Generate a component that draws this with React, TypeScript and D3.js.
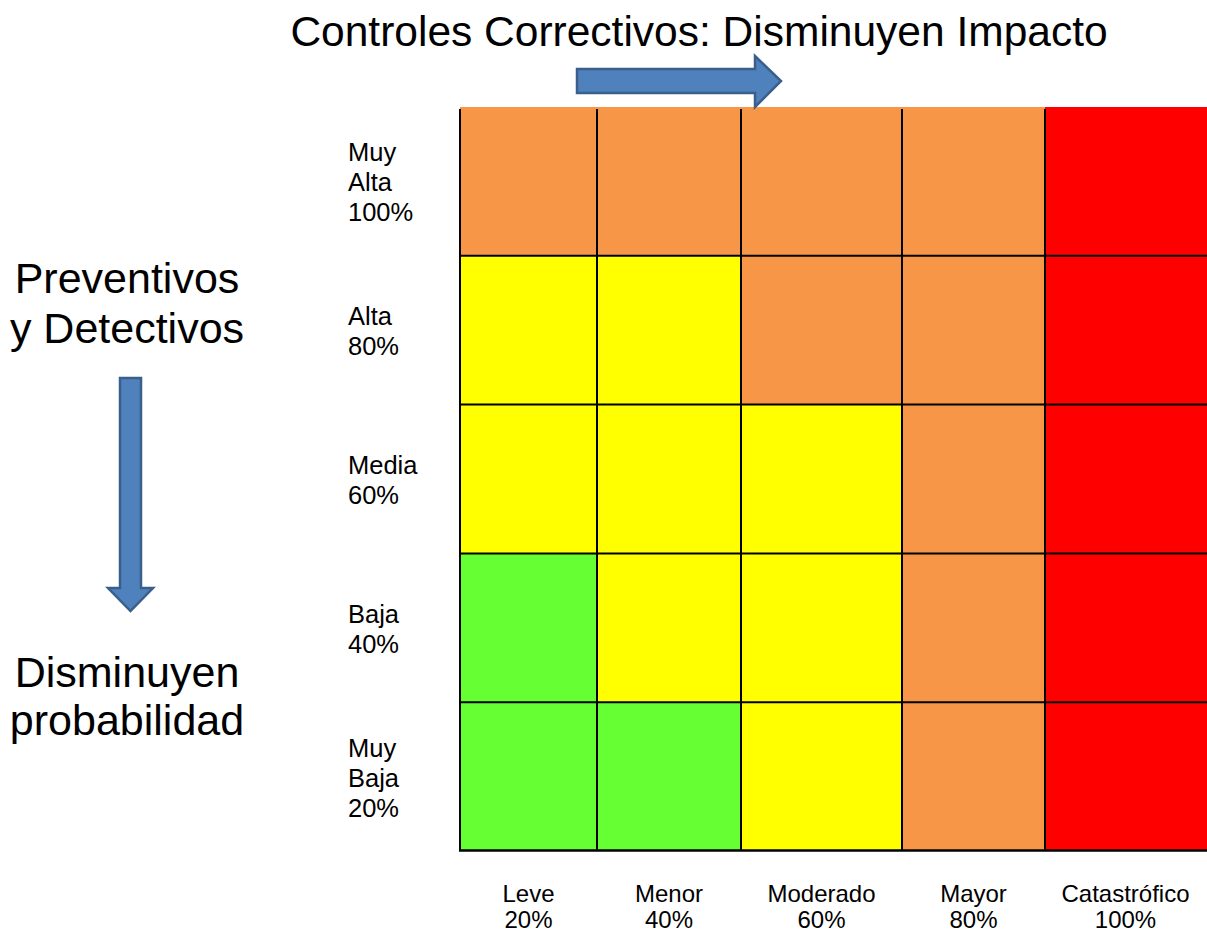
import * as d3 from "d3";
import { useRef, useEffect } from "react";

// impact (columns) and probability (rows, top to bottom)
const impactNames = ["Leve", "Menor", "Moderado", "Mayor", "Catastrófico"];
const impactPct = ["20%", "40%", "60%", "80%", "100%"];
const probLines = [
  ["Muy", "Alta", "100%"],
  ["Alta", "80%"],
  ["Media", "60%"],
  ["Baja", "40%"],
  ["Muy", "Baja", "20%"],
];
// risk level per cell: rows top to bottom, columns left to right
const levels = [
  ["alto", "alto", "alto", "alto", "extremo"],
  ["moderado", "moderado", "alto", "alto", "extremo"],
  ["moderado", "moderado", "moderado", "alto", "extremo"],
  ["bajo", "moderado", "moderado", "alto", "extremo"],
  ["bajo", "bajo", "moderado", "alto", "extremo"],
];

const width = 1207;
const height = 933;
const font = "'Liberation Sans', Arial, sans-serif";
// relative column widths as drawn in the original table
const colWeights = [137, 144, 161, 143, 164];

const levelColor = d3
  .scaleOrdinal<string, string>()
  .domain(["bajo", "moderado", "alto", "extremo"])
  .range(["#66FF33", "#FFFF00", "#F79646", "#FF0000"]);

const App = () => {
  const ref = useRef<SVGSVGElement>(null);

  useEffect(() => {
    document.body.style.margin = "0";
    const svg = d3.select(ref.current);
    svg.selectAll("*").remove();

    const edges = d3.cumsum([0, ...colWeights]);
    const x = d3.scaleLinear().domain([0, edges[edges.length - 1]]).range([460, 1209]);
    const colX = (i: number) => x(edges[i]);
    const colW = (i: number) => x(edges[i + 1]) - x(edges[i]);

    const y = d3
      .scaleBand<number>()
      .domain(d3.range(probLines.length))
      .range([107, 851]);

    // cells
    const cells = levels.flatMap((row, r) => row.map((lv, c) => ({ r, c, lv })));
    svg
      .append("g")
      .selectAll("rect")
      .data(cells)
      .join("rect")
      .attr("x", (d) => colX(d.c))
      .attr("y", (d) => y(d.r)!)
      .attr("width", (d) => colW(d.c))
      .attr("height", y.bandwidth())
      .attr("fill", (d) => levelColor(d.lv));

    // grid lines
    const grid = svg.append("g").attr("stroke", "#000").attr("stroke-width", 2);
    grid
      .selectAll("line.v")
      .data(d3.range(impactNames.length))
      .join("line")
      .attr("x1", (i) => colX(i))
      .attr("x2", (i) => colX(i))
      .attr("y1", 109)
      .attr("y2", 851);
    grid
      .selectAll("line.h")
      .data(d3.range(1, probLines.length))
      .join("line")
      .attr("x1", 459)
      .attr("x2", 1209)
      .attr("y1", (i) => y(i)!)
      .attr("y2", (i) => y(i)!);
    grid
      .append("line")
      .attr("x1", 459)
      .attr("x2", 1209)
      .attr("y1", 850.5)
      .attr("y2", 850.5)
      .attr("stroke-width", 2.5);

    // row labels
    const rowG = svg
      .append("g")
      .attr("font-family", font)
      .attr("font-size", 25.5)
      .attr("fill", "#000");
    probLines.forEach((lines, r) => {
      const cy = y(r)! + y.bandwidth() / 2 + 10;
      lines.forEach((t, k) => {
        rowG
          .append("text")
          .attr("x", 348)
          .attr("y", cy + (k - (lines.length - 1) / 2) * 30)
          .text(t);
      });
    });

    // column labels
    const colG = svg
      .append("g")
      .attr("font-family", font)
      .attr("font-size", 24)
      .attr("text-anchor", "middle")
      .attr("fill", "#000");
    impactNames.forEach((name, i) => {
      const cx = colX(i) + Math.min(colW(i), 161) / 2;
      colG.append("text").attr("x", cx).attr("y", 902).text(name);
      colG.append("text").attr("x", cx).attr("y", 928).text(impactPct[i]);
    });

    // title
    svg
      .append("text")
      .attr("x", 699)
      .attr("y", 46)
      .attr("text-anchor", "middle")
      .attr("font-family", font)
      .attr("font-size", 42.5)
      .text("Controles Correctivos: Disminuyen Impacto");

    // left side texts
    const side = svg
      .append("g")
      .attr("font-family", font)
      .attr("font-size", 43)
      .attr("text-anchor", "middle");
    side.append("text").attr("x", 127).attr("y", 293).text("Preventivos");
    side.append("text").attr("x", 127).attr("y", 343).text("y Detectivos");
    side.append("text").attr("x", 127).attr("y", 687).text("Disminuyen");
    side.append("text").attr("x", 127).attr("y", 735).text("probabilidad");

    // arrows
    const arrowStyle = (p: d3.Selection<SVGPathElement, unknown, null, undefined>) =>
      p
        .attr("fill", "#4F81BD")
        .attr("stroke", "#3A5F8C")
        .attr("stroke-width", 2.5)
        .attr("stroke-linejoin", "miter");

    const hPath = d3.path();
    hPath.moveTo(577, 69);
    hPath.lineTo(755, 69);
    hPath.lineTo(755, 56);
    hPath.lineTo(781, 81);
    hPath.lineTo(755, 107);
    hPath.lineTo(755, 93);
    hPath.lineTo(577, 93);
    hPath.closePath();
    svg.append("path").attr("d", hPath.toString()).call(arrowStyle);

    const vPath = d3.path();
    vPath.moveTo(120, 378);
    vPath.lineTo(141, 378);
    vPath.lineTo(141, 588);
    vPath.lineTo(153, 588);
    vPath.lineTo(130.5, 611);
    vPath.lineTo(108, 588);
    vPath.lineTo(120, 588);
    vPath.closePath();
    svg.append("path").attr("d", vPath.toString()).call(arrowStyle);
  }, []);

  return (
    <svg
      ref={ref}
      width={width}
      height={height}
      style={{ display: "block", background: "#fff" }}
    />
  );
};

export default App;
